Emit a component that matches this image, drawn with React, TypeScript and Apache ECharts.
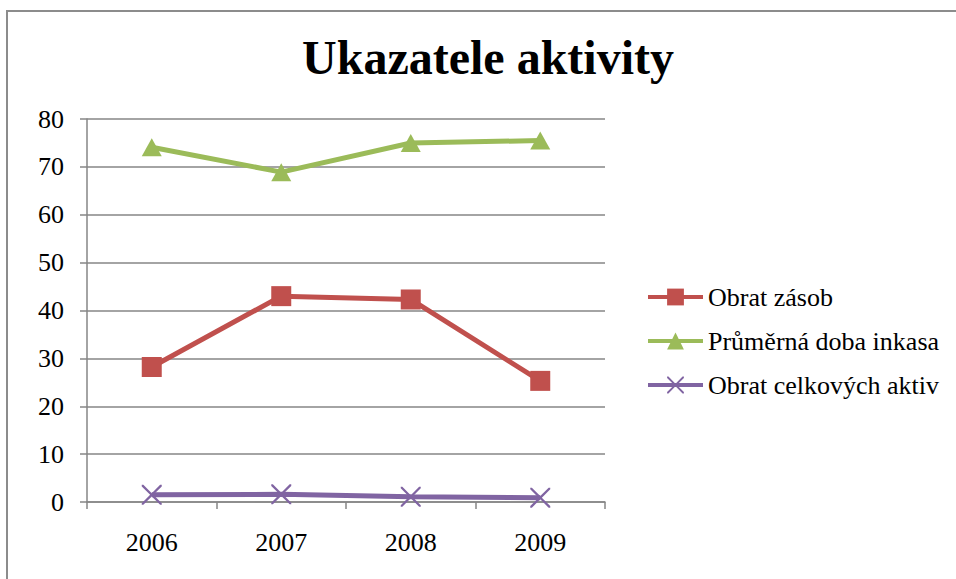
import React, { useEffect, useRef } from "react";
import * as echarts from "echarts";

const titleText = "Ukazatele aktivity";
const years = ["2006", "2007", "2008", "2009"];
const obratZasob = [28.2, 43.0, 42.3, 25.3];
const prumernaDoba = [74.1, 68.9, 75.0, 75.5];
const obratAktiv = [1.5, 1.6, 1.1, 0.9];
const seriesNames = ["Obrat zásob", "Průměrná doba inkasa", "Obrat celkových aktiv"];

const X_PATH =
  "path://M0,0L1.6,0L10,8.4L18.4,0L20,0L20,1.6L11.6,10L20,18.4L20,20L18.4,20L10,11.6L1.6,20L0,20L0,18.4L8.4,10L0,1.6Z";

export default function App() {
  const ref = useRef<HTMLDivElement>(null);
  useEffect(() => {
    if (!ref.current) return;
    const chart = echarts.init(ref.current, null, { renderer: "svg" });
    const font = "Liberation Serif";
    chart.setOption({
      animation: false,
      backgroundColor: "#ffffff",
      title: {
        text: titleText,
        left: 483,
        textAlign: "center",
        top: 28,
        textStyle: { fontFamily: font, fontSize: 48, fontWeight: "bold", color: "#000" },
      },
      graphic: [
        { type: "line", shape: { x1: 7, y1: 11, x2: 7, y2: 579 }, style: { stroke: "#8c8c8c", lineWidth: 2 } },
        { type: "line", shape: { x1: 6, y1: 11, x2: 956, y2: 11 }, style: { stroke: "#8c8c8c", lineWidth: 2 } },
      ],
      legend: {
        orient: "vertical",
        left: 641,
        top: 279,
        itemWidth: 55,
        itemHeight: 21,
        itemGap: 18,
        data: seriesNames,
        lineStyle: { width: 4 },
        textStyle: { fontFamily: font, fontSize: 26, color: "#000" },
      },
      grid: { left: 87, right: 351, top: 119, bottom: 77, containLabel: false },
      xAxis: {
        type: "category",
        data: years,
        boundaryGap: true,
        axisLine: { show: true, lineStyle: { color: "#868686", width: 1.5 } },
        axisTick: { show: true, length: 7, lineStyle: { color: "#868686", width: 1.5 } },
        axisLabel: { fontFamily: font, fontSize: 26, color: "#000", margin: 27 },
      },
      yAxis: {
        type: "value",
        min: 0,
        max: 80,
        interval: 10,
        axisLine: { show: true, lineStyle: { color: "#868686", width: 1.5 } },
        axisTick: { show: true, length: 7, lineStyle: { color: "#868686", width: 1.5 } },
        axisLabel: { fontFamily: font, fontSize: 26, color: "#000", margin: 23 },
        splitLine: { show: true, lineStyle: { color: "#868686", width: 1.5 } },
      },
      series: [
        {
          name: seriesNames[0],
          type: "line",
          data: obratZasob,
          symbol: "rect",
          symbolSize: 20,
          lineStyle: { color: "#C0504D", width: 5 },
          itemStyle: { color: "#C0504D" },
        },
        {
          name: seriesNames[1],
          type: "line",
          data: prumernaDoba,
          symbol: "triangle",
          symbolSize: [20, 18],
          lineStyle: { color: "#9BBB59", width: 5 },
          itemStyle: { color: "#9BBB59" },
        },
        {
          name: seriesNames[2],
          type: "line",
          data: obratAktiv,
          symbol: X_PATH,
          symbolSize: 20,
          lineStyle: { color: "#8064A2", width: 5 },
          itemStyle: { color: "#8064A2" },
        },
      ],
    });
    return () => chart.dispose();
  }, []);
  return (
    <div
      ref={ref}
      style={{ position: "fixed", left: 0, top: 0, width: 956, height: 579, background: "#fff" }}
    />
  );
}
